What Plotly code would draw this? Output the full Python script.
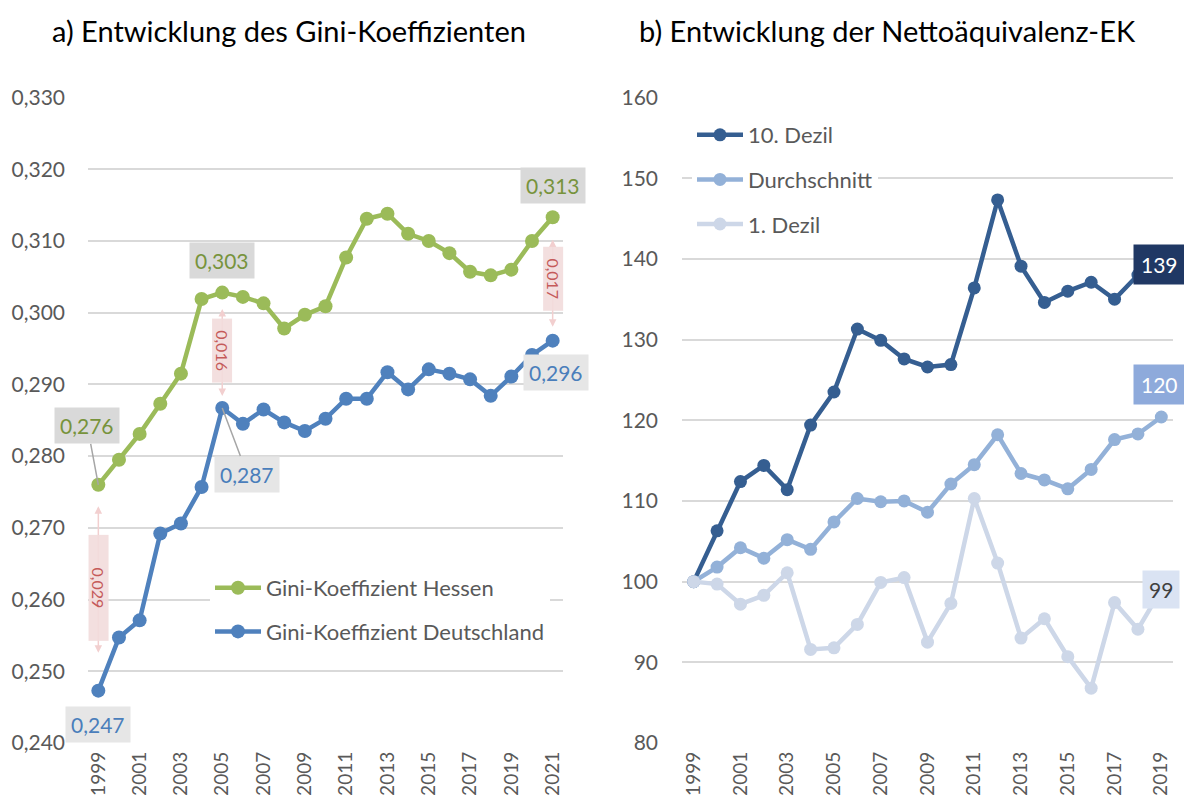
import plotly.graph_objects as go

# ---------------- data ----------------
years_a = list(range(1999, 2022))
gini_hessen = [0.2760, 0.2795, 0.2831, 0.2873, 0.2915, 0.3019, 0.3028, 0.3022, 0.3013, 0.2978,
               0.2997, 0.3009, 0.3077, 0.3131, 0.3138, 0.3110, 0.3100, 0.3083, 0.3057, 0.3052,
               0.3060, 0.3100, 0.3133]
gini_de = [0.2473, 0.2547, 0.2571, 0.2692, 0.2706, 0.2757, 0.2867, 0.2845, 0.2865, 0.2847,
           0.2835, 0.2852, 0.2880, 0.2880, 0.2917, 0.2893, 0.2921, 0.2915, 0.2907, 0.2884,
           0.2911, 0.2941, 0.2961]
diff_years = [1999, 2005, 2021]

years_b = list(range(1999, 2020))
dezil10 = [100.0, 106.3, 112.4, 114.4, 111.4, 119.4, 123.5, 131.3, 129.9, 127.6, 126.6,
           126.9, 136.4, 147.3, 139.1, 134.6, 136.0, 137.1, 135.0, 138.0, 139.3]
durchschnitt = [100.0, 101.8, 104.2, 102.9, 105.2, 104.0, 107.4, 110.3, 109.9, 110.0, 108.6,
                112.1, 114.5, 118.2, 113.4, 112.6, 111.5, 113.9, 117.6, 118.3, 120.4]
dezil1 = [100.0, 99.7, 97.2, 98.3, 101.1, 91.6, 91.8, 94.7, 99.9, 100.5, 92.5,
          97.3, 110.3, 102.3, 93.0, 95.4, 90.7, 86.8, 97.4, 94.1, 99.0]

tick_years_a = [str(y) for y in range(1999, 2022, 2)]
tick_years_b = [str(y) for y in range(1999, 2020, 2)]

title_a = "a) Entwicklung des Gini-Koeffizienten"
title_b = "b) Entwicklung der Nettoäquivalenz-EK"

# ---------------- styles ----------------
FONT = "Lato"
GRAY = "#595959"
GRID = "#d9d9d9"
C_HES = "#9bbb59"
C_DE = "#4f81bd"
C_D10 = "#355e91"
C_AVG = "#93b1d8"
C_D1 = "#cdd7e8"


def fmt3(v):
    return f"{v:.3f}".replace(".", ",")


fig = go.Figure()

fig.add_trace(go.Scatter(x=years_a, y=gini_hessen, name="Gini-Koeffizient Hessen",
                         mode="lines+markers", line=dict(color=C_HES, width=4.5),
                         marker=dict(size=14, color=C_HES), xaxis="x", yaxis="y",
                         legend="legend", legendgroup="h"))
fig.add_trace(go.Scatter(x=years_a, y=gini_de, name="Gini-Koeffizient Deutschland",
                         mode="lines+markers", line=dict(color=C_DE, width=4.5),
                         marker=dict(size=14, color=C_DE), xaxis="x", yaxis="y",
                         legend="legend", legendgroup="d"))

for vals, nm, col, grp in [(dezil10, "10. Dezil", C_D10, "a"),
                           (durchschnitt, "Durchschnitt", C_AVG, "b"),
                           (dezil1, "1. Dezil", C_D1, "c")]:
    fig.add_trace(go.Scatter(x=years_b, y=vals, name=nm, mode="lines+markers",
                             line=dict(color=col, width=4.5),
                             marker=dict(size=13, color=col), xaxis="x2", yaxis="y2",
                             legend="legend2", legendgroup=grp))

ann = []
ann.append(dict(text=title_a, x=289 / 1184, y=1 - 31 / 805, xref="paper", yref="paper",
                xanchor="center", yanchor="middle", showarrow=False,
                font=dict(family=FONT, size=29, color="#000000")))
ann.append(dict(text=title_b, x=887 / 1184, y=1 - 31 / 805, xref="paper", yref="paper",
                xanchor="center", yanchor="middle", showarrow=False,
                font=dict(family=FONT, size=29, color="#000000")))

lab_font_h = dict(family=FONT, size=21, color="#77933c")
lab_font_d = dict(family=FONT, size=21, color="#4a7ebb")
h = dict(zip(years_a, gini_hessen))
d = dict(zip(years_a, gini_de))

ann.append(dict(x=1999, y=h[1999], xref="x", yref="y", text=fmt3(h[1999]),
                showarrow=True, ax=-11, ay=-59, arrowhead=0, arrowwidth=1.5,
                arrowcolor="#a6a6a6", font=lab_font_h, bgcolor="#d9d9d9", borderpad=5))
ann.append(dict(x=2005, y=h[2005], xref="x", yref="y", text=fmt3(h[2005]),
                showarrow=False, yshift=32, font=lab_font_h, bgcolor="#d9d9d9", borderpad=5))
ann.append(dict(x=2021, y=h[2021], xref="x", yref="y", text=fmt3(h[2021]),
                showarrow=False, yshift=32, font=lab_font_h, bgcolor="#d9d9d9", borderpad=5))
ann.append(dict(x=1999, y=d[1999], xref="x", yref="y", text=fmt3(d[1999]),
                showarrow=False, yshift=-34, font=lab_font_d, bgcolor="#e6e6e6", borderpad=5))
ann.append(dict(x=2005, y=d[2005], xref="x", yref="y", text=fmt3(d[2005]),
                showarrow=True, ax=25, ay=66, arrowhead=0, arrowwidth=1.5,
                arrowcolor="#a6a6a6", font=lab_font_d, bgcolor="#e6e6e6", borderpad=5))
ann.append(dict(x=2021, y=d[2021], xref="x", yref="y", text=fmt3(d[2021]),
                showarrow=False, yshift=-32, xshift=3, font=lab_font_d, bgcolor="#e6e6e6",
                borderpad=5))

diff_cfg = {1999: (20, 38, 103), 2005: (15, 12, 61), 2021: (21, 14, 61)}
for yr in diff_years:
    st_top, st_bot, blen = diff_cfg[yr]
    ann.append(dict(x=yr, y=d[yr], ax=yr, ay=h[yr], xref="x", yref="y", axref="x", ayref="y",
                    text="", showarrow=True, arrowside="end+start", arrowhead=2,
                    startarrowhead=2, arrowsize=1, startarrowsize=1, arrowwidth=1.5,
                    arrowcolor="#f2cfcf", standoff=st_bot, startstandoff=st_top))
    ann.append(dict(x=yr, y=(h[yr] + d[yr]) / 2, xref="x", yref="y",
                    text=fmt3(h[yr] - d[yr]), showarrow=False, textangle=90,
                    width=blen, height=17, bgcolor="rgba(242,220,219,0.9)",
                    font=dict(family=FONT, size=16, color="#c55a5a")))

ann.append(dict(x=2019, y=dezil10[-1], xref="x2", yref="y2", text=f"{dezil10[-1]:.0f}",
                showarrow=False, xshift=-2, font=dict(family=FONT, size=21, color="#ffffff"),
                bgcolor="#203864", borderpad=7))
ann.append(dict(x=2019, y=durchschnitt[-1], xref="x2", yref="y2",
                text=f"{durchschnitt[-1]:.0f}", showarrow=False, xshift=-2, yshift=33,
                font=dict(family=FONT, size=21, color="#ffffff"), bgcolor="#8eaadb",
                borderpad=7))
ann.append(dict(x=2019, y=dezil1[-1], xref="x2", yref="y2", text=f"{dezil1[-1]:.0f}",
                showarrow=False, font=dict(family=FONT, size=21, color="#404040"),
                bgcolor="#dae3f3", borderpad=6))

axis_common = dict(showgrid=False, zeroline=False, showline=False, ticks="",
                   tickangle=-90, automargin=False, ticklabelstandoff=4,
                   tickfont=dict(family=FONT, size=19, color=GRAY))
yaxis_common = dict(showgrid=True, gridcolor=GRID, gridwidth=1.5, zeroline=False,
                    showline=False, ticks="", automargin=False,
                    tickfont=dict(family=FONT, size=21, color=GRAY))

ydom = [62 / 805, 1 - 97.5 / 805]

fig.update_layout(
    width=1184, height=805, autosize=False,
    margin=dict(l=0, r=0, t=0, b=0, pad=0, autoexpand=False),
    paper_bgcolor="white", plot_bgcolor="white",
    separators=",.",
    font=dict(family=FONT, color=GRAY),
    xaxis=dict(domain=[88 / 1184, 563 / 1184], range=[1998.5, 2021.5],
               tickvals=[int(t) for t in tick_years_a], ticktext=tick_years_a,
               anchor="y", **axis_common),
    yaxis=dict(domain=ydom, range=[0.24, 0.33], dtick=0.01, tickformat=".3f",
               anchor="x", ticklabelstandoff=22, **yaxis_common),
    xaxis2=dict(domain=[682 / 1184, 1173 / 1184], range=[1998.5, 2019.5],
                tickvals=[int(t) for t in tick_years_b], ticktext=tick_years_b,
                anchor="y2", **axis_common),
    yaxis2=dict(domain=ydom, range=[80, 160], dtick=10, anchor="x2",
                ticklabelstandoff=23, **yaxis_common),
    legend=dict(x=210 / 1184, y=1 - 567 / 805, xanchor="left", yanchor="top",
                bgcolor="white", font=dict(family=FONT, size=22, color=GRAY),
                tracegroupgap=12, itemwidth=46),
    legend2=dict(x=692 / 1184, y=1 - 114 / 805, xanchor="left", yanchor="top",
                 bgcolor="white", font=dict(family=FONT, size=22, color=GRAY),
                 tracegroupgap=13, itemwidth=46),
    annotations=ann,
    showlegend=True,
)

fig.write_html(
    "out.html",
    config={"displayModeBar": False},
    post_script="document.body.style.margin='0';document.body.style.overflow='hidden';",
)
